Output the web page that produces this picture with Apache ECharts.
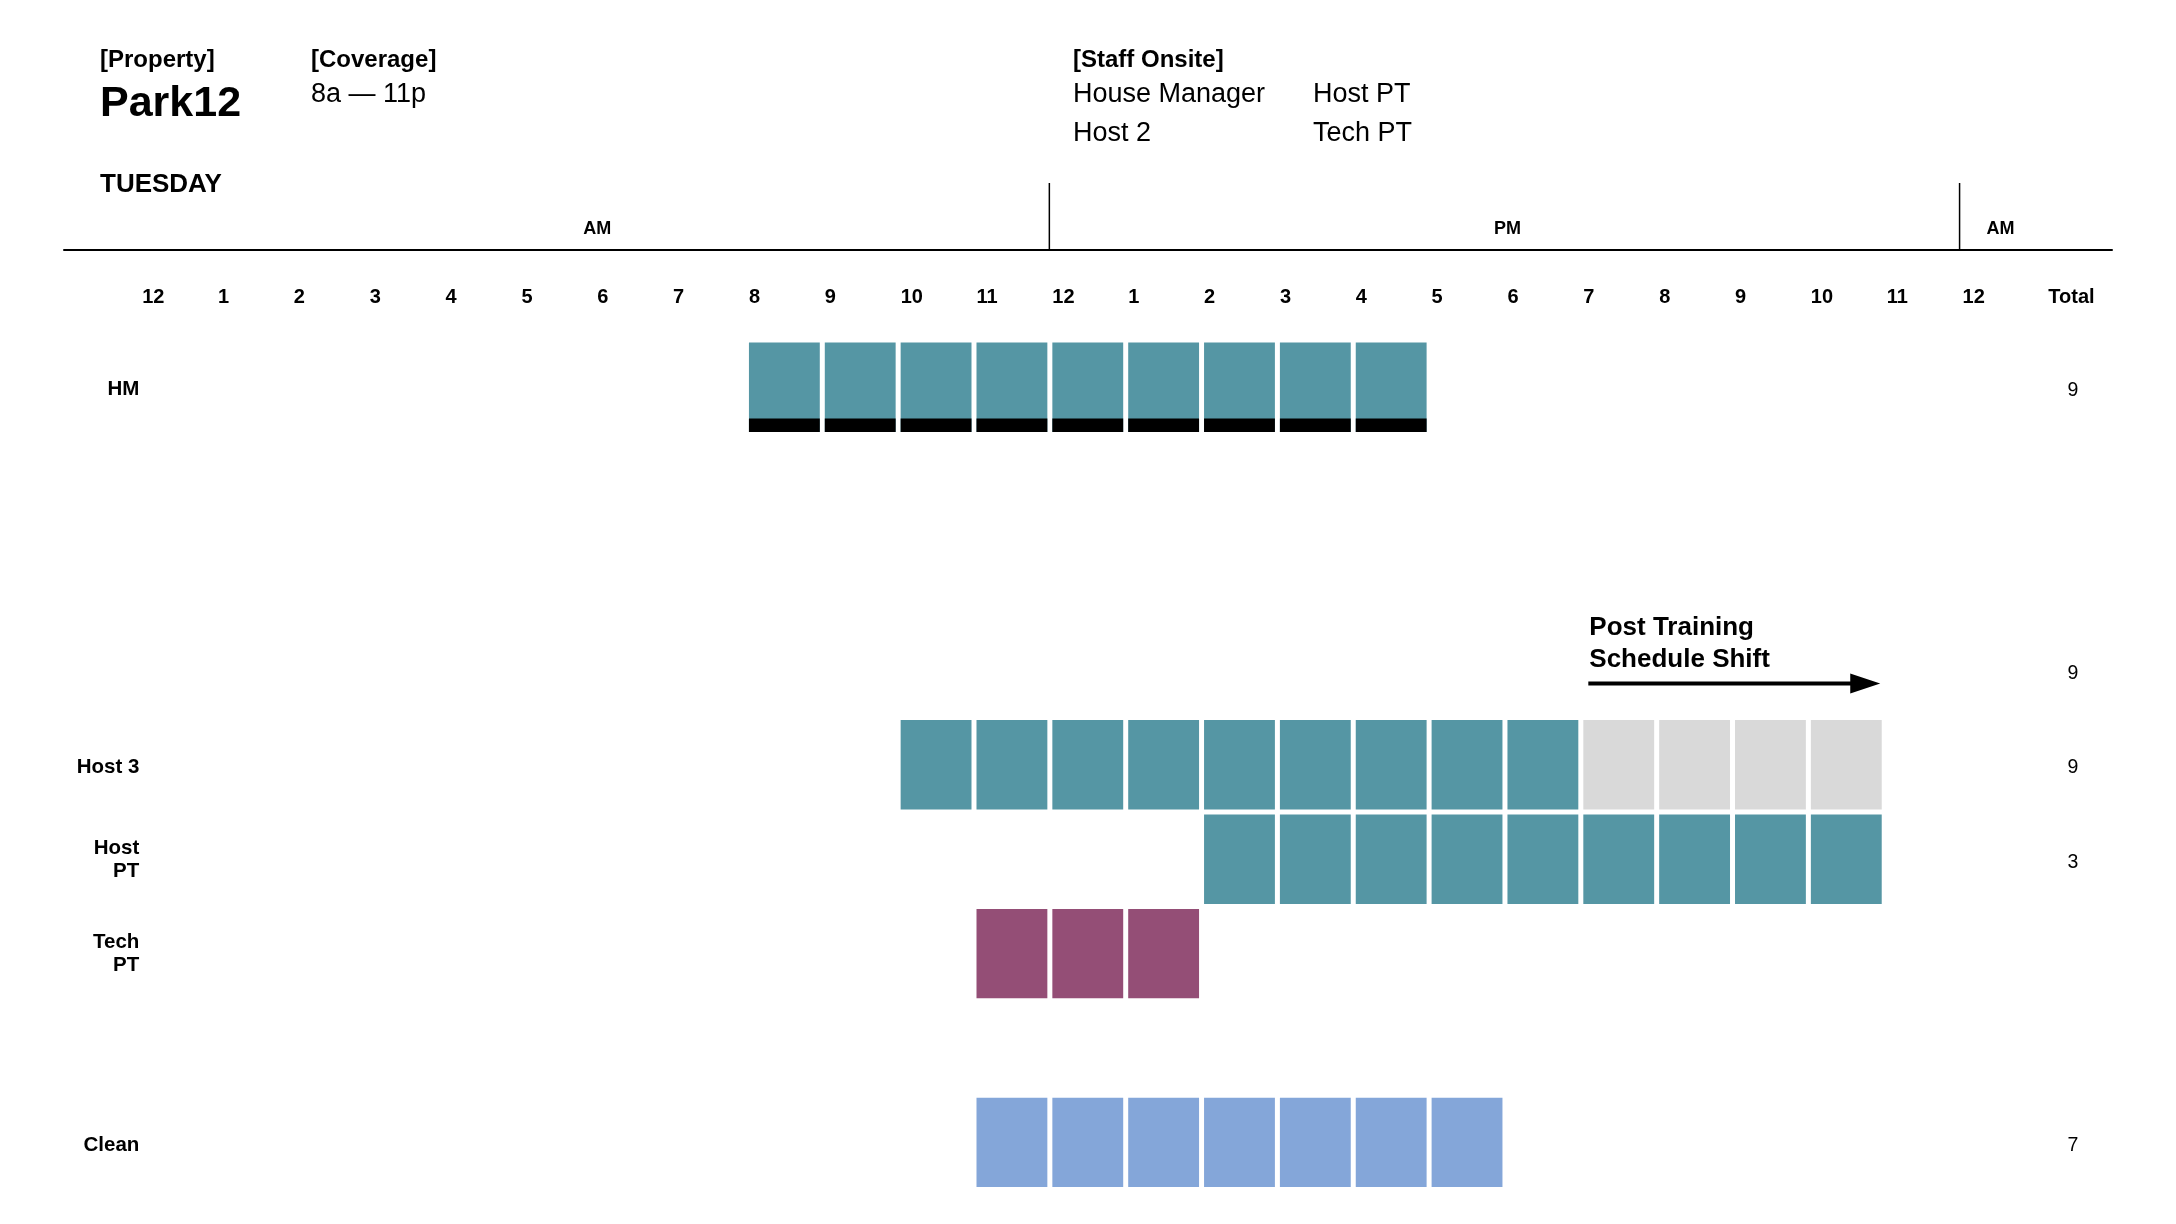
<!DOCTYPE html>
<html>
<head>
<meta charset="utf-8">
<script src="https://cdn.jsdelivr.net/npm/echarts@6/dist/echarts.min.js"></script>
<style>
  html, body { margin: 0; padding: 0; background: #fff; }
  #chart { width: 2176px; height: 1224px; }
</style>
</head>
<body>
<div id="chart"></div>
<script>
// 表头文字
const propertyName = 'Park12'
const coverage = '8a — 11p'
const staffOnsite = ['House Manager', 'Host PT', 'Host 2', 'Tech PT']
const dayName = 'TUESDAY'

// 时间轴
const hourLabels = ['12', '1', '2', '3', '4', '5', '6', '7', '8', '9', '10', '11',
  '12', '1', '2', '3', '4', '5', '6', '7', '8', '9', '10', '11', '12']
const periodNames = ['AM', 'PM', 'AM']
const periodStart = [0, 12, 24]
const periodEnd = [12, 24, 25]

// 行
const rowLabels = ['HM', '', '', '', 'Host 3', 'Host\nPT', 'Tech\nPT', '', 'Clean']
const rowTotals = ['9', '', '', '9', '9', '3', '', '', '7']

// 班次 (起止小时, 含最后一小时)
const shiftRow = [0, 4, 4, 5, 6, 8]
const shiftStart = [8, 10, 19, 14, 11, 11]
const shiftEnd = [16, 18, 22, 22, 13, 17]
const shiftKind = ['hm', 'host', 'post', 'host', 'tech', 'clean']

// 注释
const noteText = 'Post Training\nSchedule Shift'
const noteFrom = 19
const noteTo = 23
const noteRow = 3

const FONT = '"Liberation Sans", Arial, sans-serif'
const kindColor = {
  hm: '#5596a4',
  host: '#5596a4',
  post: '#d9d9d9',
  tech: '#944e76',
  clean: '#84a6d9'
}

// 每小时一个方块
const blocks = []
shiftRow.forEach((r, i) => {
  for (let h = shiftStart[i]; h <= shiftEnd[i]; h++) {
    blocks.push([h, r, shiftKind[i]])
  }
})

const periods = periodNames.map((n, i) => [periodStart[i], periodEnd[i], n])

const chart = echarts.init(document.getElementById('chart'))

const xMin = -1.03
const xMax = 25.97

function headText(x, y, text, font) {
  return { type: 'text', x: x, y: y, style: { text: text, font: font + ' ' + FONT, fill: '#000', verticalAlign: 'middle' } }
}

// 第一行加上内边距, 让文字略微下移
function nudge(text) {
  if (!text) return ''
  return text.split('\n').map((s, i) => (i === 0 ? '{p|' : '{a|') + s + '}').join('\n')
}

const option = {
  animation: false,
  grid: [
    { left: 64, right: 64, top: 340, height: 849.6 },
    { left: 64, right: 64, top: 183, height: 66.3 }
  ],
  xAxis: [
    {
      gridIndex: 0,
      type: 'value',
      position: 'top',
      min: xMin,
      max: xMax,
      axisLine: { show: false },
      axisTick: { show: false },
      splitLine: { show: false },
      axisLabel: {
        customValues: hourLabels.map((_, i) => i).concat([25.13]),
        formatter: function (v) {
          return v > 24.5 ? 'Total' : hourLabels[Math.round(v)]
        },
        align: 'left',
        margin: 32.5,
        color: '#000',
        fontFamily: FONT,
        fontWeight: 'bold',
        fontSize: 20
      }
    },
    {
      gridIndex: 1,
      type: 'value',
      min: xMin,
      max: xMax,
      axisLine: { show: true, onZero: false, lineStyle: { color: '#000', width: 2 } },
      axisTick: { show: false },
      splitLine: { show: false },
      axisLabel: { show: false }
    }
  ],
  yAxis: [
    {
      gridIndex: 0,
      type: 'category',
      data: rowLabels,
      inverse: true,
      offset: -75.3,
      axisLine: { show: false },
      axisTick: { show: false },
      splitLine: { show: false },
      axisLabel: {
        margin: 0,
        align: 'right',
        formatter: function (v) {
          return nudge(v)
        },
        rich: {
          p: { fontFamily: FONT, fontWeight: 'bold', fontSize: 20.5, color: '#000', lineHeight: 24, padding: [5, 0, 0, 0] },
          a: { fontFamily: FONT, fontWeight: 'bold', fontSize: 20.5, color: '#000', lineHeight: 27 }
        }
      }
    },
    {
      gridIndex: 0,
      type: 'category',
      data: rowLabels,
      inverse: true,
      position: 'right',
      offset: -39,
      axisLine: { show: false },
      axisTick: { show: false },
      splitLine: { show: false },
      axisLabel: {
        margin: 0,
        align: 'center',
        formatter: function (v, i) {
          return nudge(rowTotals[i])
        },
        rich: {
          p: { fontFamily: FONT, fontSize: 19.5, color: '#000', padding: [6, 0, 0, 0] }
        }
      }
    },
    {
      gridIndex: 1,
      type: 'value',
      min: 0,
      max: 1,
      show: false
    }
  ],
  graphic: [
    headText(100, 60, '[Property]', 'bold 24px'),
    headText(100, 104.5, propertyName, 'bold 43px'),
    headText(311, 60, '[Coverage]', 'bold 24px'),
    headText(311, 95, coverage, '27px'),
    headText(1073, 60, '[Staff Onsite]', 'bold 24px'),
    headText(1073, 95, staffOnsite[0], '27px'),
    headText(1313, 95, staffOnsite[1], '27px'),
    headText(1073, 134, staffOnsite[2], '27px'),
    headText(1313, 134, staffOnsite[3], '27px'),
    headText(100, 185, dayName, 'bold 26px')
  ],
  series: [
    {
      // 排班方块
      type: 'custom',
      xAxisIndex: 0,
      yAxisIndex: 0,
      data: blocks,
      renderItem: function (params, api) {
        const h = api.value(0)
        const r = api.value(1)
        const kind = blocks[params.dataIndex][2]
        const p0 = api.coord([h, r])
        const p1 = api.coord([h + 1, r])
        const band = api.size([0, 1])[1]
        const w = p1[0] - p0[0] - 5
        const hgt = band - 5
        const y = p0[1] - hgt / 2
        const children = [{
          type: 'rect',
          shape: { x: p0[0], y: y, width: w, height: hgt },
          style: { fill: kindColor[kind] }
        }]
        if (kind === 'hm') {
          children.push({
            type: 'rect',
            shape: { x: p0[0], y: y + hgt - 13.4, width: w, height: 13.4 },
            style: { fill: '#000' }
          })
        }
        return { type: 'group', children: children }
      }
    },
    {
      // AM / PM 分段
      type: 'custom',
      xAxisIndex: 1,
      yAxisIndex: 2,
      data: periods,
      renderItem: function (params, api) {
        const s = api.value(0)
        const e = api.value(1)
        const name = periods[params.dataIndex][2]
        const mid = api.coord([(s + e) / 2, 0.3])
        const children = [{
          type: 'text',
          style: {
            text: name, x: mid[0], y: mid[1],
            align: 'center', verticalAlign: 'middle',
            font: 'bold 18px ' + FONT, fill: '#000'
          }
        }]
        if (s > 0) {
          const top = api.coord([s, 1])
          const bot = api.coord([s, 0])
          children.push({
            type: 'line',
            shape: { x1: top[0] - 3, y1: top[1], x2: bot[0] - 3, y2: bot[1] },
            style: { stroke: '#000', lineWidth: 1.5 }
          })
        }
        return { type: 'group', children: children }
      }
    },
    {
      // 注释箭头
      type: 'custom',
      xAxisIndex: 0,
      yAxisIndex: 0,
      data: [[noteFrom, noteRow, noteTo]],
      renderItem: function (params, api) {
        const a = api.coord([api.value(0), api.value(1)])
        const b = api.coord([api.value(2), api.value(1)])
        const y = a[1] + 13
        const x0 = a[0] + 5
        const tip = b[0] - 6.5
        return {
          type: 'group',
          children: [
            {
              type: 'line',
              shape: { x1: x0, y1: y, x2: tip - 20, y2: y },
              style: { stroke: '#000', lineWidth: 4 }
            },
            {
              type: 'polygon',
              shape: { points: [[tip - 30, y - 10], [tip, y], [tip - 30, y + 10]] },
              style: { fill: '#000' }
            },
            {
              type: 'text',
              style: {
                text: noteText, x: x0 + 1, y: a[1] - 59,
                align: 'left', verticalAlign: 'top',
                font: 'bold 26px ' + FONT, fill: '#000', lineHeight: 32
              }
            }
          ]
        }
      }
    }
  ]
}

chart.setOption(option)
window.addEventListener('resize', () => chart.resize())
</script>
</body>
</html>
